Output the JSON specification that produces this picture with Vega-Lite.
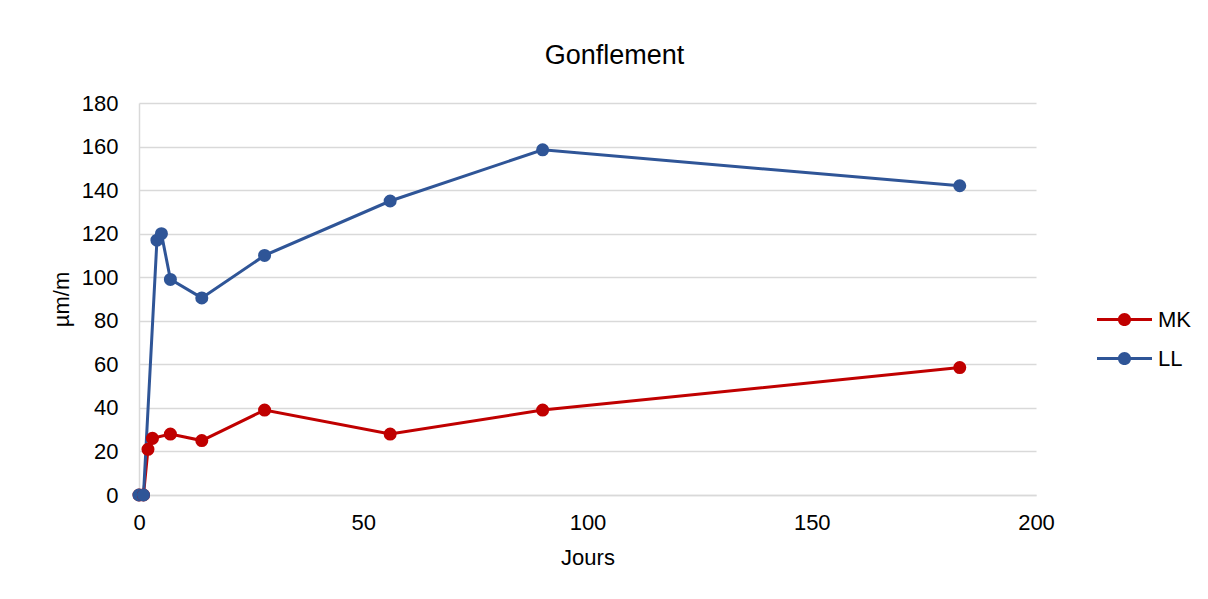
{
  "$schema": "https://vega.github.io/schema/vega-lite/v6.json",
  "autosize": "none",
  "width": 897,
  "height": 392,
  "padding": {"left": 139, "top": 103, "right": 172, "bottom": 104},
  "background": "white",
  "title": {"text": "Gonflement", "fontSize": 27, "font": "Liberation Sans", "fontWeight": "normal", "color": "#000000", "offset": 22, "dx": 27},
  "config": {
    "font": "Liberation Sans",
    "view": {"stroke": null},
    "axis": {"labelFont": "Liberation Sans", "titleFont": "Liberation Sans", "labelFontSize": 22, "titleFontSize": 22, "labelColor": "#000000", "titleColor": "#000000", "titleFontWeight": "normal", "domainColor": "#d9d9d9", "domainWidth": 1.5, "gridColor": "#d9d9d9", "gridWidth": 1.5, "ticks": false, "labelFlush": false}
  },
  "data": {"values": [
    {"jours": 0, "v": 0, "serie": "MK"},
    {"jours": 1, "v": 0, "serie": "MK"},
    {"jours": 2, "v": 21, "serie": "MK"},
    {"jours": 3, "v": 26, "serie": "MK"},
    {"jours": 7, "v": 28, "serie": "MK"},
    {"jours": 14, "v": 25, "serie": "MK"},
    {"jours": 28, "v": 39, "serie": "MK"},
    {"jours": 56, "v": 28, "serie": "MK"},
    {"jours": 90, "v": 39, "serie": "MK"},
    {"jours": 183, "v": 58.5, "serie": "MK"},
    {"jours": 0, "v": 0, "serie": "LL"},
    {"jours": 1, "v": 0, "serie": "LL"},
    {"jours": 4, "v": 117, "serie": "LL"},
    {"jours": 5, "v": 120, "serie": "LL"},
    {"jours": 7, "v": 99, "serie": "LL"},
    {"jours": 14, "v": 90.5, "serie": "LL"},
    {"jours": 28, "v": 110, "serie": "LL"},
    {"jours": 56, "v": 135, "serie": "LL"},
    {"jours": 90, "v": 158.5, "serie": "LL"},
    {"jours": 183, "v": 142, "serie": "LL"}
  ]},
  "encoding": {
    "x": {"field": "jours", "type": "quantitative", "title": "Jours",
      "scale": {"domain": [0, 200], "nice": false},
      "axis": {"values": [0, 50, 100, 150, 200], "grid": false, "labelPadding": 17, "titlePadding": 14}},
    "y": {"field": "v", "type": "quantitative", "title": "µm/m",
      "scale": {"domain": [0, 180], "nice": false},
      "axis": {"values": [0, 20, 40, 60, 80, 100, 120, 140, 160, 180], "labelPadding": 21, "titlePadding": 8}},
    "color": {"field": "serie", "type": "nominal", "sort": ["MK", "LL"],
      "scale": {"domain": ["MK", "LL"], "range": ["#C00000", "#2F5597"]},
      "legend": {"title": null, "orient": "none", "legendX": 958, "legendY": 189,
        "labelFontSize": 22, "labelFont": "Liberation Sans", "labelColor": "#000000",
        "symbolType": "M-1,-0.055 L1,-0.055 L1,0.055 L-1,0.055 Z M-0.24,0 A0.24,0.24 0 1,1 0.24,0 A0.24,0.24 0 1,1 -0.24,0 Z",
        "symbolSize": 3025, "labelOffset": 6, "rowPadding": -9,
        "encode": {"symbols": {"update": {"fill": {"scale": "color", "field": "value"}, "stroke": {"value": "transparent"}, "strokeWidth": {"value": 0}, "opacity": {"value": 1}}}}}
    },
    "order": {"field": "jours", "type": "quantitative"}
  },
  "mark": {"type": "line", "strokeWidth": 3, "point": {"filled": true, "size": 170, "opacity": 1}}
}
